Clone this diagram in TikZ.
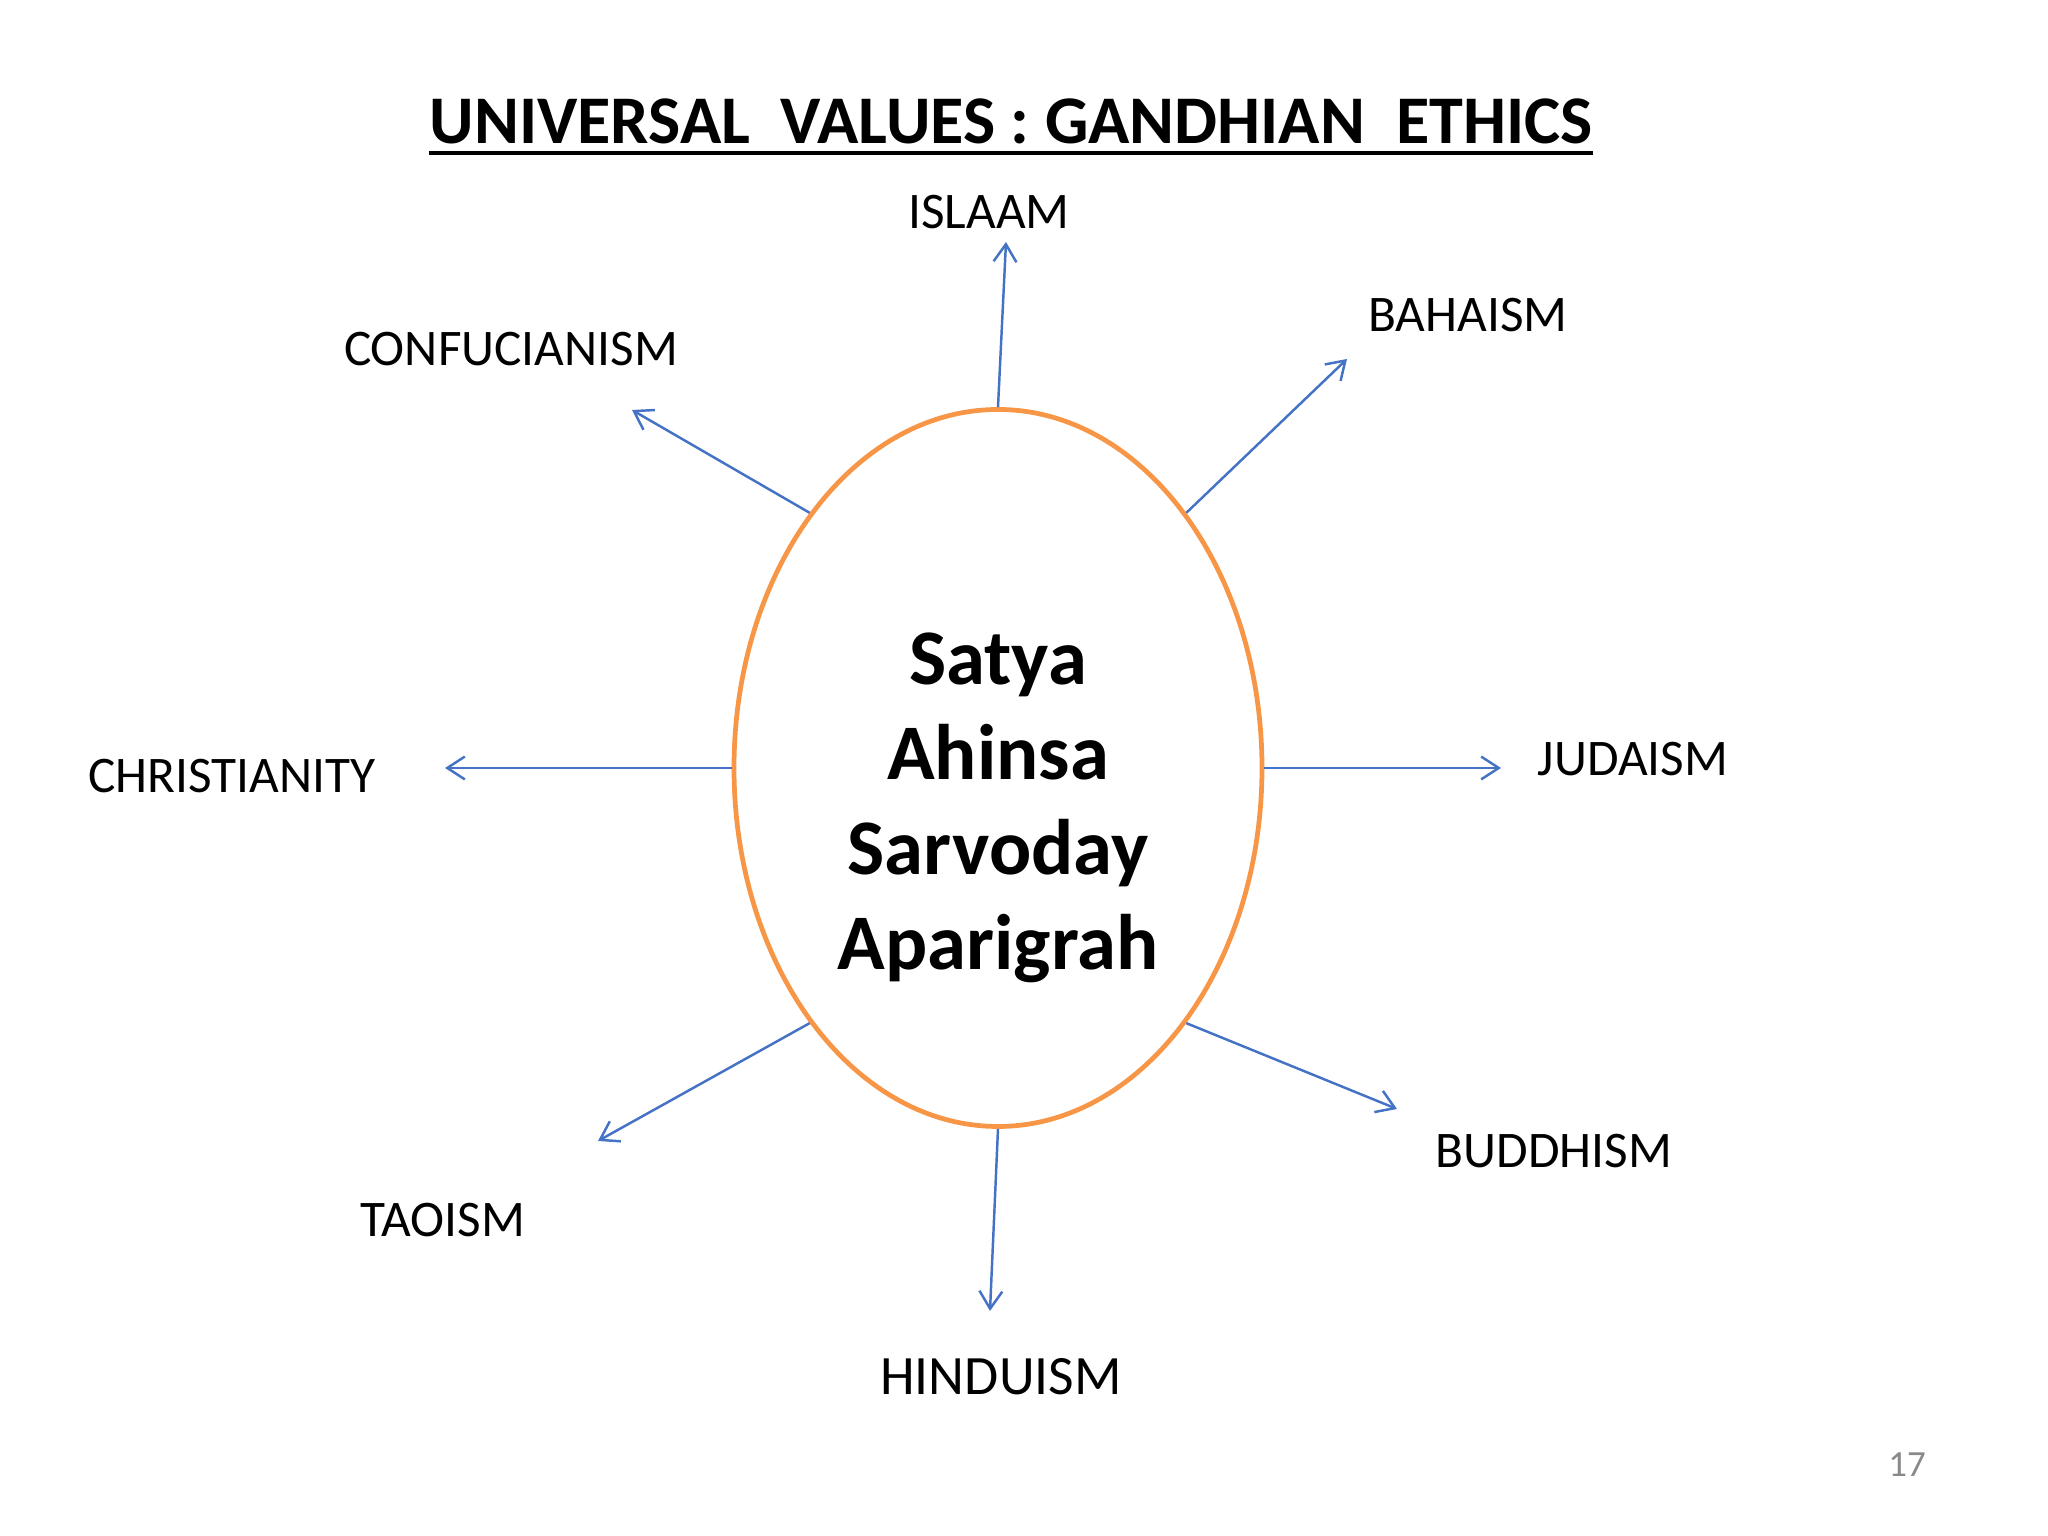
\documentclass[tikz,border=0pt]{standalone}
\usepackage{fontspec}
\setmainfont{Carlito}
\usepackage{tikz}
\usetikzlibrary{positioning,shapes.geometric,arrows.meta}
\definecolor{rimorange}{RGB}{247,150,70}
\definecolor{spokeblue}{RGB}{68,114,196}
\definecolor{pagegray}{RGB}{137,137,137}

\begin{document}
\begin{tikzpicture}[node distance=3cm,on grid,
  faith/.style={font=\fontsize{14.6}{18}\selectfont,inner sep=0pt},
  spoke/.style={spokeblue,line width=0.7pt,-{Straight Barb[length=5pt,width=6.5pt]}}]
  \useasboundingbox (0,0) rectangle (20.48,15.36);
  \node[ellipse,draw=rimorange,line width=1.35pt,minimum width=5.28cm,minimum height=7.17cm,inner sep=0pt] (core) at (9.98,7.68) {};
  \node[align=center,font=\bfseries\fontsize{22.4}{27}\selectfont] (vals) [below = 0.40cm of core] {Satya\\Ahinsa\\Sarvoday\\Aparigrah};

  \node[inner sep=0pt,font=\bfseries\fontsize{19.4}{24}\selectfont] (title) [above right = 6.47cm and 0.13cm of core] {UNIVERSAL\ \ VALUES : GANDHIAN\ \ ETHICS};
  \draw[line width=1.1pt] ([yshift=-2.9pt]title.base west) -- ([yshift=-2.9pt]title.base east);

  \node[faith] (islaam) [above left = 5.56cm and 0.09cm of core] {ISLAAM};
  \node[faith] (bahai) [above right = 4.53cm and 4.70cm of core] {BAHAISM};
  \node[faith] (confu) [above left = 4.19cm and 4.87cm of core] {CONFUCIANISM};
  \node[faith] (christ) [below left = 0.08cm and 7.66cm of core] {CHRISTIANITY};
  \node[faith] (juda) [above right = 0.09cm and 6.35cm of core] {JUDAISM};
  \node[faith] (buddh) [below right = 3.83cm and 5.56cm of core] {BUDDHISM};
  \node[faith] (tao) [below left = 4.52cm and 5.55cm of core] {TAOISM};
  \node[faith,font=\fontsize{15.8}{19}\selectfont] (hindu) [below right = 6.09cm and 0.03cm of core] {HINDUISM};
  \node[font=\fontsize{10.5}{12}\selectfont,text=pagegray] (pgno) [below right = 6.97cm and 9.09cm of core] {17};

  % arrow ends
  \coordinate[above right = 5.26cm and 0.08cm of core] (eIslaam);
  \coordinate[above right = 4.09cm and 3.49cm of core] (eBahai);
  \coordinate[above left = 3.58cm and 3.66cm of core] (eConfu);
  \coordinate[left = 5.53cm of core] (eChrist);
  \coordinate[right = 5.03cm of core] (eJuda);
  \coordinate[below right = 3.41cm and 3.99cm of core] (eBuddh);
  \coordinate[below left = 3.73cm and 4.00cm of core] (eTao);
  \coordinate[below left = 5.43cm and 0.08cm of core] (eHindu);

  \draw[spoke] (core.north) -- (eIslaam);
  \draw[spoke] (core.north east) -- (eBahai);
  \draw[spoke] (core.north west) -- (eConfu);
  \draw[spoke] (core.west) -- (eChrist);
  \draw[spoke] (core.east) -- (eJuda);
  \draw[spoke] (core.south east) -- (eBuddh);
  \draw[spoke] (core.south west) -- (eTao);
  \draw[spoke] (core.south) -- (eHindu);
\end{tikzpicture}
\end{document}
